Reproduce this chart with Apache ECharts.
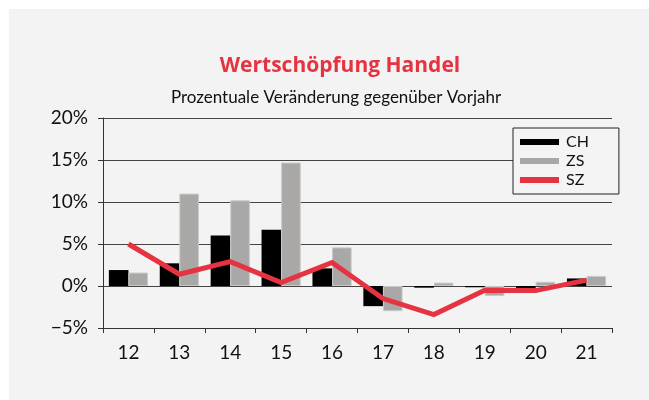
<!DOCTYPE html>
<html>
<head>
<meta charset="utf-8">
<script src="https://cdn.jsdelivr.net/npm/echarts@6/dist/echarts.min.js"></script>
<style>
html,body{margin:0;padding:0;background:#fff;}
#c{width:649px;height:400px;}
</style>
</head>
<body>
<div id="c"></div>
<script>
var categories = ['12','13','14','15','16','17','18','19','20','21'];
var chValues = [1.9, 2.7, 6.0, 6.7, 2.1, -2.4, -0.2, -0.15, -0.4, 0.9];
var zsValues = [1.6, 11.0, 10.2, 14.7, 4.6, -3.0, 0.4, -1.2, 0.5, 1.2];
var szValues = [5.0, 1.4, 2.9, 0.4, 2.8, -1.5, -3.4, -0.5, -0.55, 0.7];
var yTicks = [-5, 0, 5, 10, 15, 20];
var seriesNames = ['CH', 'ZS', 'SZ'];

var FONT = 'Lato, "Noto Sans", sans-serif';
var TFONT = '"Open Sans", Lato, sans-serif';
var RED = '#e63341';
var chart = echarts.init(document.getElementById('c'), null, {renderer: 'canvas'});
chart.setOption({
  animation: false,
  backgroundColor: '#ffffff',
  graphic: [{
    type: 'rect', left: 9, top: 9, z: -10,
    shape: {width: 640, height: 391},
    style: {fill: '#f3f3f3'}
  }],
  title: [{
    text: 'Wertschöpfung Handel',
    left: 335, top: 51, textAlign: 'center',
    textStyle: {color: RED, fontFamily: TFONT, fontWeight: 'bold', fontSize: 21}
  }, {
    text: 'Prozentuale Veränderung gegenüber Vorjahr',
    left: 331, top: 84, textAlign: 'center',
    textStyle: {color: '#111', fontFamily: FONT, fontWeight: 'normal', fontSize: 17}
  }],
  legend: {
    orient: 'vertical',
    left: 513, top: 128,
    width: 88,
    padding: [6, 30, 6, 7],
    itemGap: 3,
    itemWidth: 39, itemHeight: 6,
    borderColor: '#222', borderWidth: 1,
    backgroundColor: '#f4f4f4',
    itemStyle: {borderWidth: 0},
    textStyle: {fontFamily: FONT, fontSize: 16, color: '#111', padding: [0,0,0,2]},
    data: [
      {name: seriesNames[0], icon: 'rect'},
      {name: seriesNames[1], icon: 'rect'},
      {name: seriesNames[2], icon: 'rect'}
    ]
  },
  grid: {left: 103, right: 37, top: 118, bottom: 72, containLabel: false},
  xAxis: {
    type: 'category',
    data: categories,
    boundaryGap: true,
    axisLine: {onZero: false, lineStyle: {color: '#333', width: 1}},
    axisTick: {show: true, length: 5, lineStyle: {color: '#333'}},
    axisLabel: {fontFamily: FONT, fontSize: 19, color: '#111', margin: 15}
  },
  yAxis: {
    type: 'value',
    min: yTicks[0], max: yTicks[yTicks.length - 1], interval: 5,
    axisLine: {show: true, lineStyle: {color: '#333', width: 1}},
    axisTick: {show: true, length: 5, lineStyle: {color: '#333'}},
    splitLine: {show: true, lineStyle: {color: '#444', width: 1}},
    axisLabel: {
      fontFamily: FONT, fontSize: 19, color: '#111', margin: 15,
      formatter: function (v) { return (v < 0 ? '\u2212' + Math.abs(v) : v) + '%'; }
    }
  },
  series: [{
    name: seriesNames[0], type: 'bar', data: chValues,
    barGap: '0%', barCategoryGap: '23%',
    itemStyle: {color: '#000'}
  }, {
    name: seriesNames[1], type: 'bar', data: zsValues,
    itemStyle: {color: '#a9a8a6', borderColor: '#c9c9c7', borderWidth: 1}
  }, {
    name: seriesNames[2], type: 'line', data: szValues,
    showSymbol: false, symbol: 'none',
    lineStyle: {color: RED, width: 5, join: 'miter'},
    itemStyle: {color: RED},
    z: 5
  }]
});
</script>
</body>
</html>
